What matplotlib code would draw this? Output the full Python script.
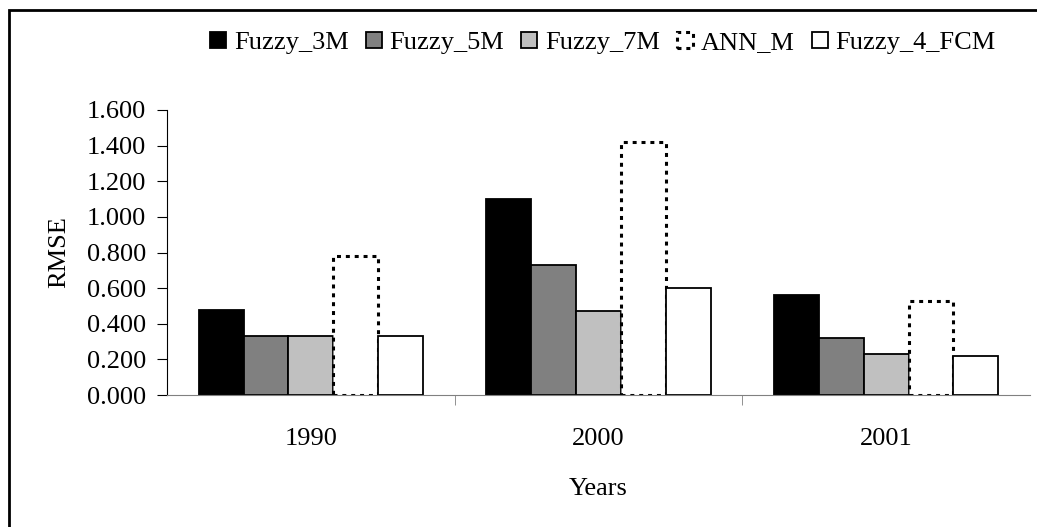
import matplotlib
matplotlib.use("Agg")
import matplotlib.pyplot as plt
import matplotlib.patches as mpatches
import numpy as np

years = ["1990", "2000", "2001"]
series = ["Fuzzy_3M", "Fuzzy_5M", "Fuzzy_7M", "ANN_M", "Fuzzy_4_FCM"]
fuzzy_3m = [0.48, 1.10, 0.56]
fuzzy_5m = [0.33, 0.73, 0.32]
fuzzy_7m = [0.33, 0.47, 0.23]
ann_m = [0.78, 1.42, 0.53]
fuzzy_4_fcm = [0.33, 0.60, 0.22]
yticks = [0.0, 0.2, 0.4, 0.6, 0.8, 1.0, 1.2, 1.4, 1.6]

plt.rcParams['font.family'] = ['Liberation Serif', 'DejaVu Serif']
FS = 19

fig = plt.figure(figsize=(10.37, 5.27), dpi=100)
ax = fig.add_axes([167/1037, 1-395/527, (1030-167)/1037, (395-110)/527])

values = [fuzzy_3m, fuzzy_5m, fuzzy_7m, ann_m, fuzzy_4_fcm]
fills = ["black", "#808080", "#c0c0c0", "white", "white"]
x = np.arange(len(years))
w = 0.156
handles = []
for i, (vals, fc) in enumerate(zip(values, fills)):
    pos = x + (i - 2) * w
    if series[i] == "ANN_M":
        b = ax.bar(pos, vals, w, facecolor="white", edgecolor="black",
                   linewidth=2.2, linestyle=(0, (1.3, 1.6)), label=series[i])
    else:
        b = ax.bar(pos, vals, w, facecolor=fc, edgecolor="black",
                   linewidth=1.3, label=series[i])
    handles.append(b)

ax.set_xlim(-0.5, 2.5)
ax.set_ylim(0, 1.6)
ax.set_yticks(yticks)
ax.set_yticklabels([f"{v:.3f}" for v in yticks], fontsize=FS)
ax.set_xticks(x)
ax.set_xticklabels(years, fontsize=FS)
ax.tick_params(axis='x', which='major', length=0, pad=24)
ax.set_xticks([0.5, 1.5], minor=True)
ax.tick_params(axis='x', which='minor', length=7, color="#808080", direction='out')
ax.tick_params(axis='y', length=7, direction='out', pad=8)
for s in ["top", "right"]:
    ax.spines[s].set_visible(False)
ax.spines["bottom"].set_color("#808080")
ax.spines["left"].set_color("black")
ax.set_ylabel("RMSE", fontsize=FS, labelpad=12)
ax.set_xlabel("Years", fontsize=FS, labelpad=20)

leg = fig.legend(handles=handles, labels=series, loc="center",
                 bbox_to_anchor=(603/1037, 1-43/527), ncol=5, frameon=False,
                 fontsize=FS, handlelength=0.6, handleheight=0.6,
                 handletextpad=0.3, columnspacing=0.65)

# outer chart border
fig.patches.append(mpatches.Rectangle((9/1037, -0.05), 1.1, (527-10)/527 + 0.05,
                                      transform=fig.transFigure, fill=False,
                                      edgecolor="black", linewidth=2))

fig.savefig("out.png", dpi=100)
